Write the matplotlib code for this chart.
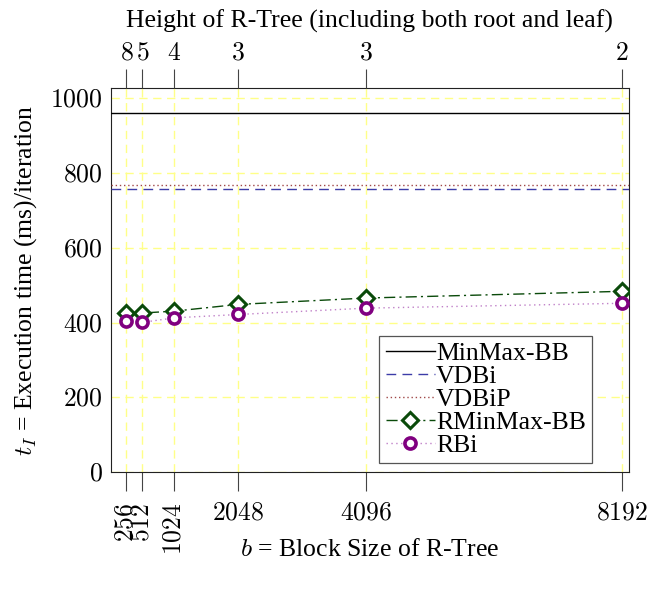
import matplotlib
matplotlib.use("Agg")
import matplotlib.pyplot as plt

plt.rcParams["font.family"] = ["Liberation Serif", "DejaVu Serif"]
plt.rcParams["mathtext.fontset"] = "cm"

# Block sizes of the R-Tree and the resulting tree heights
block_sizes = [256, 512, 1024, 2048, 4096, 8192]
tree_heights = [8, 5, 4, 3, 3, 2]

# Constant reference timings (ms/iteration)
minmax_bb = 960
vdbi = 757
vdbip = 768

# R-Tree based timings (ms/iteration)
rminmax_bb = [426, 426, 431, 449, 466, 484]
rbi = [405, 401, 413, 422, 439, 452]

y_ticks = [0, 200, 400, 600, 800, 1000]

FS = 18.5

fig = plt.figure(figsize=(6.62, 5.91), dpi=100)
ax = fig.add_axes([0.1677, 0.2009, 0.9494 - 0.1677, 0.8506 - 0.2009])

ax.set_xlim(10, 8295)
ax.set_ylim(0, 1027)

ax.axhline(minmax_bb, color="black", lw=1.0, label="MinMax-BB", zorder=3)
ax.axhline(vdbi, color="#3c3ca8", lw=1.0, ls=(0, (7, 4.5)), label="VDBi", zorder=3)
ax.axhline(vdbip, color="#a04848", lw=1.0, ls=(0, (1, 2)), label="VDBiP", zorder=3)
ax.plot(block_sizes, rminmax_bb, color="#0a4a0a", lw=1.0, ls=(0, (8, 3, 1.5, 3)),
        marker="D", ms=8, mew=2.2, mfc="white", mec="#0a4a0a",
        label="RMinMax-BB", zorder=4)
ax.plot(block_sizes, rbi, color="#c080c8", lw=1.0, ls=(0, (1, 2.5)),
        marker="o", ms=8, mew=2.6, mfc="white", mec="#800080",
        label="RBi", zorder=5)

# grid
grid_kw = dict(color="#ffff88", lw=1.0, ls=(0, (6, 4)))
ax.set_xticks(block_sizes)
ax.set_yticks(y_ticks)
ax.grid(True, **grid_kw)
ax.set_axisbelow(True)

ax.set_xticklabels([f"${v}$" for v in block_sizes], fontsize=FS)
ax.set_yticklabels([f"${v}$" for v in y_ticks], fontsize=FS)
for lbl in ax.get_xticklabels()[:3]:
    lbl.set_rotation(90)
    lbl.set_va("top")
    lbl.set_ha("center")

ax.tick_params(axis="x", direction="out", length=14, width=0.8, pad=8,
               color="#444444")
ax.tick_params(axis="y", length=0, pad=6)
for s in ax.spines.values():
    s.set_linewidth(0.8)
    s.set_color("#222222")

ax.set_xlabel("$b$ = Block Size of R-Tree", fontsize=FS)
ax.xaxis.set_label_coords(0.5, -0.175)
ax.set_ylabel("$t_I$ = Execution time (ms)/iteration", fontsize=FS, labelpad=8)

# secondary axis on top: tree height
top = ax.twiny()
top.set_xlim(ax.get_xlim())
top.set_xticks(block_sizes)
top.set_xticklabels([f"${h}$" for h in tree_heights], fontsize=FS)
top.tick_params(axis="x", direction="out", length=14, width=0.8, pad=3,
                color="#444444")
top.set_xlabel("Height of R-Tree (including both root and leaf)", fontsize=FS,
               labelpad=11)
for s in top.spines.values():
    s.set_visible(False)

leg = ax.legend(loc="lower right", bbox_to_anchor=(0.930, 0.0234),
                borderaxespad=0, fontsize=FS, frameon=True, fancybox=False,
                edgecolor="#555555", framealpha=1, labelspacing=0.0,
                handlelength=1.9, handletextpad=0.05, borderpad=0.25,
                numpoints=1)
leg.get_frame().set_linewidth(0.9)
leg.set_zorder(10)

fig.savefig("out.png", dpi=100)
